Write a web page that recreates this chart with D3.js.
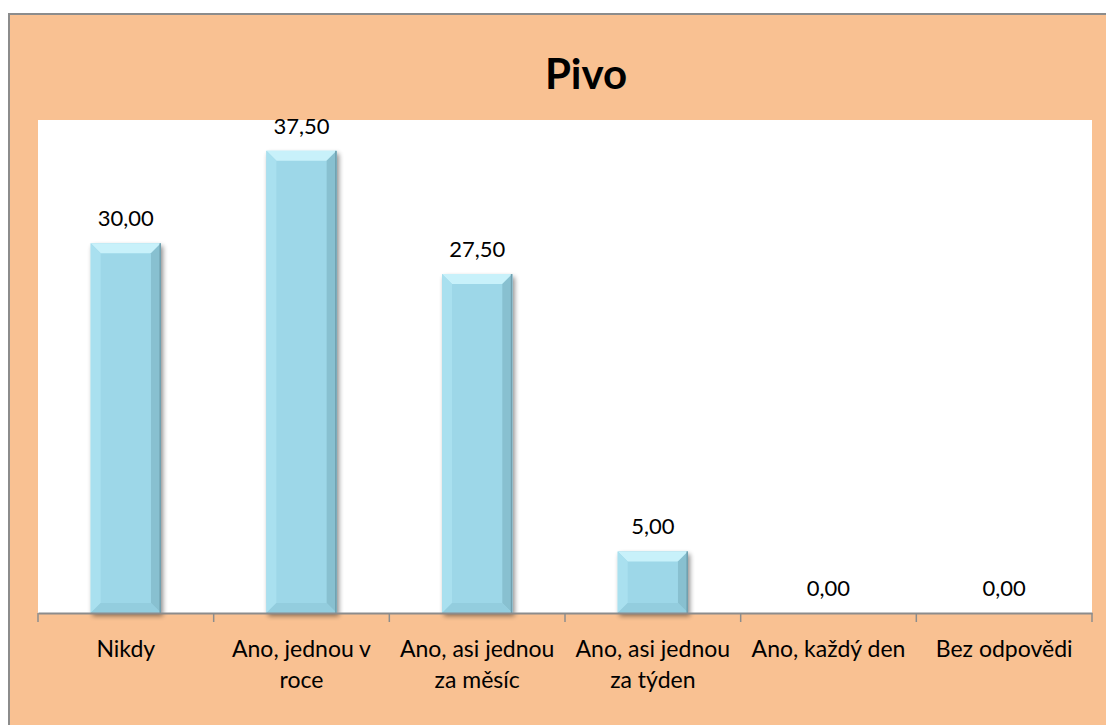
<!DOCTYPE html>
<html>
<head>
<meta charset="utf-8">
<script src="https://cdn.jsdelivr.net/npm/d3@7"></script>
<style>
  html, body { margin: 0; padding: 0; background: #ffffff; }
  svg { display: block; }
</style>
</head>
<body>
<svg id="chart" width="1106" height="725"></svg>
<script>
const title = "Pivo";
const categories = ["Nikdy", "Ano, jednou v roce", "Ano, asi jednou za měsíc", "Ano, asi jednou za týden", "Ano, každý den", "Bez odpovědi"];
const values = [30.00, 37.50, 27.50, 5.00, 0.00, 0.00];
const yDomain = [0, 40];

const svg = d3.select("#chart");
const font = "Lato, 'Open Sans', sans-serif";

// Frame
svg.append("rect").attr("x", 9).attr("y", 14).attr("width", 1200).attr("height", 800)
  .attr("fill", "#F9C192").attr("stroke", "#8C8C8C").attr("stroke-width", 2);

const plot = { left: 38, right: 1092, top: 120, bottom: 613 };

svg.append("rect").attr("x", plot.left).attr("y", plot.top)
  .attr("width", plot.right - plot.left).attr("height", plot.bottom - plot.top)
  .attr("fill", "#ffffff");

// Title
svg.append("text").attr("x", 586).attr("y", 89).attr("text-anchor", "middle")
  .attr("font-family", font).attr("font-weight", "bold").attr("font-size", 42)
  .attr("fill", "#000").text(title);

const x = d3.scaleBand().domain(categories).range([plot.left, plot.right]).paddingInner(0).paddingOuter(0);
const y = d3.scaleLinear().domain(yDomain).range([plot.bottom, plot.top]);
const barW = x.bandwidth() * 0.4;

// defs
const defs = svg.append("defs");
const f = defs.append("filter").attr("id", "shadow").attr("x", "-20%").attr("y", "-20%").attr("width", "150%").attr("height", "150%");
f.append("feGaussianBlur").attr("in", "SourceAlpha").attr("stdDeviation", 2.5).attr("result", "b");
f.append("feOffset").attr("in", "b").attr("dx", 2).attr("dy", 3).attr("result", "o");
f.append("feComponentTransfer").attr("in", "o").attr("result", "o2")
  .append("feFuncA").attr("type", "linear").attr("slope", 0.45);
const m = f.append("feMerge");
m.append("feMergeNode").attr("in", "o2");
m.append("feMergeNode").attr("in", "SourceGraphic");

const data = categories.map((c, i) => ({ c, v: values[i] }));

const bars = svg.append("g").selectAll("g").data(data.filter(d => d.v > 0)).join("g")
  .attr("filter", "url(#shadow)");

const bev = 10;
bars.each(function(d) {
  const g = d3.select(this);
  const x0 = x(d.c) + (x.bandwidth() - barW) / 2, x1 = x0 + barW;
  const y0 = y(d.v), y1 = y(0);
  const b = Math.min(bev, (y1 - y0) / 2);
  g.append("rect").attr("x", x0).attr("y", y0).attr("width", barW).attr("height", y1 - y0).attr("fill", "#9DD7E8");
  g.append("path").attr("d", `M${x0},${y0}L${x1},${y0}L${x1 - b},${y0 + b}L${x0 + b},${y0 + b}Z`).attr("fill", "#C8F1FA");
  g.append("path").attr("d", `M${x0},${y0}L${x0 + b},${y0 + b}L${x0 + b},${y1 - b}L${x0},${y1}Z`).attr("fill", "#A9E0EF");
  g.append("path").attr("d", `M${x1},${y0}L${x1},${y1}L${x1 - b},${y1 - b}L${x1 - b},${y0 + b}Z`).attr("fill", "#88C0D0");
  g.append("path").attr("d", `M${x0},${y1}L${x1},${y1}L${x1 - b},${y1 - b}L${x0 + b},${y1 - b}Z`).attr("fill", "#93CDDE");
  g.append("rect").attr("x", x1 - 1.5).attr("y", y0).attr("width", 1.5).attr("height", y1 - y0).attr("fill", "#6F9FAE");
});

// Value labels
svg.append("g").selectAll("text").data(data).join("text")
  .attr("x", d => x(d.c) + x.bandwidth() / 2)
  .attr("y", d => y(d.v) - 17)
  .attr("text-anchor", "middle").attr("font-family", font).attr("font-size", 22).attr("fill", "#000")
  .text(d => d3.format(".2f")(d.v).replace(".", ","));

// Axis
const axis = d3.axisBottom(x).tickSize(0).tickFormat("");
const ax = svg.append("g").attr("transform", `translate(0,${plot.bottom})`).call(axis);
ax.select(".domain").attr("stroke", "#8C8C8C").attr("stroke-width", 2);
ax.selectAll(".tick").remove();
const tickPos = categories.map(c => x(c)).concat([plot.right]);
ax.selectAll("line.t").data(tickPos).join("line").attr("class", "t")
  .attr("x1", d => d).attr("x2", d => d).attr("y1", 0).attr("y2", 9)
  .attr("stroke", "#8C8C8C").attr("stroke-width", 1.5);

// Category labels with wrapping
const maxW = x.bandwidth() - 6;
const labels = svg.append("g");
categories.forEach(c => {
  const cx = x(c) + x.bandwidth() / 2;
  const t = labels.append("text").attr("x", cx).attr("y", 657)
    .attr("text-anchor", "middle").attr("font-family", font).attr("font-size", 23).attr("fill", "#000");
  const words = c.split(" ");
  let line = [];
  let ts = t.append("tspan").attr("x", cx).attr("dy", 0);
  words.forEach(w => {
    line.push(w);
    ts.text(line.join(" "));
    if (ts.node().getComputedTextLength() > maxW && line.length > 1) {
      line.pop();
      ts.text(line.join(" "));
      line = [w];
      ts = t.append("tspan").attr("x", cx).attr("dy", 31).text(w);
    }
  });
});
</script>
</body>
</html>
